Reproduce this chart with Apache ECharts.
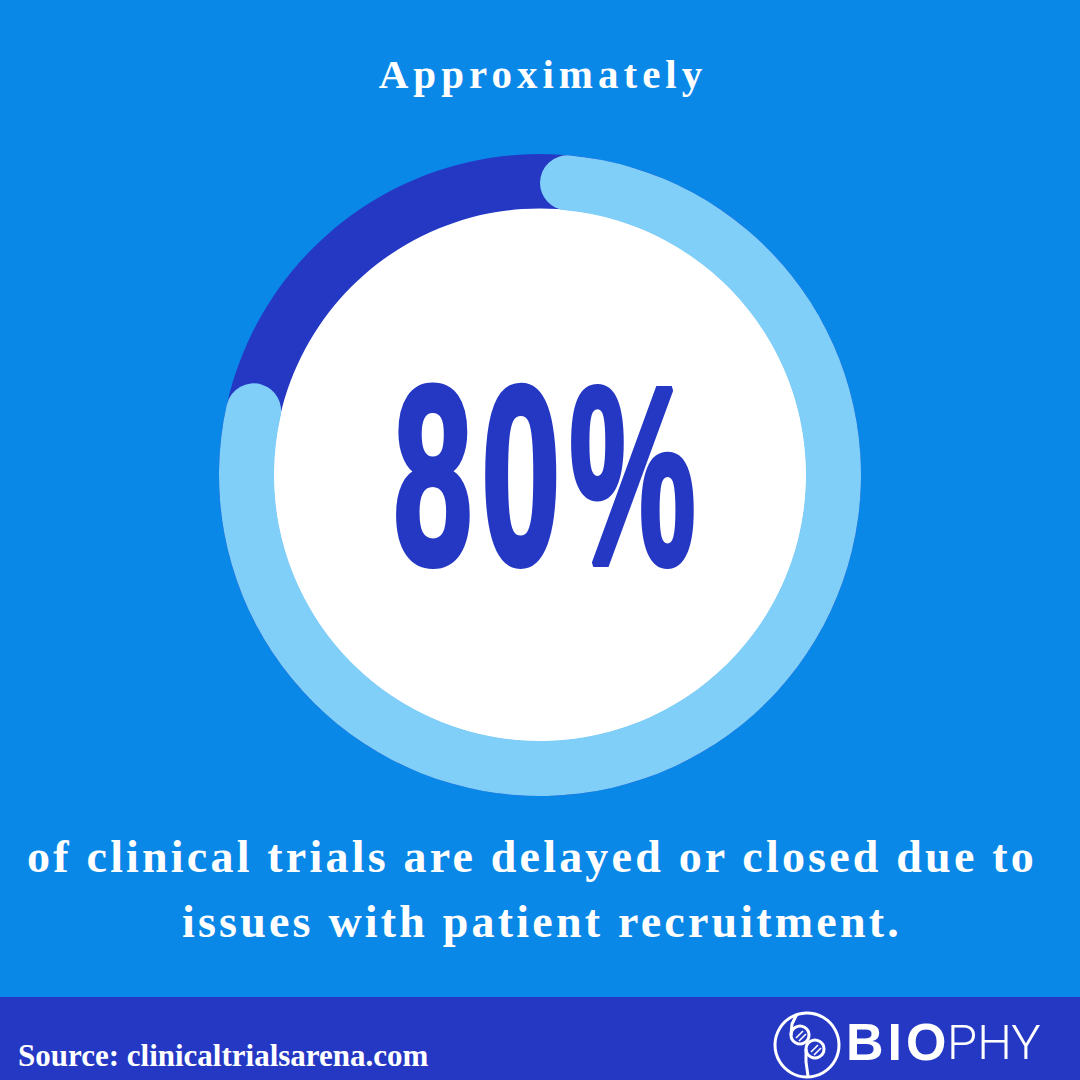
<!DOCTYPE html>
<html>
<head>
<meta charset="utf-8">
<script src="https://cdn.jsdelivr.net/npm/echarts@6/dist/echarts.min.js"></script>
<style>
html,body{margin:0;padding:0;background:#0A88E8;}
#chart{width:1080px;height:1080px;}
</style>
</head>
<body>
<div id="chart"></div>
<script>
// ---- data ----
const categories = ['Delayed or closed due to recruitment issues', 'Other trials'];
const values = [80, 20];
const titleText = 'Approximately';
const captionLines = ['of clinical trials are delayed or closed due to', 'issues with patient recruitment.'];
const sourceText = 'Source: clinicaltrialsarena.com';
const brandBold = 'BIO';
const brandLight = 'PHY';

// ---- styles ----
const BG = '#0A88E8';
const DARK = '#2538C4';
const LIGHT = '#80CFF9';
const CENTER = [540, 475];
const R_IN = 266, R_OUT = 321;
const bigText = values[0] + '%';

const chart = echarts.init(document.getElementById('chart'), null, {renderer: 'svg', width: 1080, height: 1080});

const spacingMap = {};
spacingMap[titleText] = '5px';
spacingMap[captionLines[0]] = '3.2px';
spacingMap[captionLines[1]] = '3.2px';
spacingMap[bigText] = '16px';
spacingMap[brandBold] = '4px';

const option = {
  backgroundColor: BG,
  animation: false,
  series: [
    {
      type: 'pie', silent: true, radius: [R_IN, R_OUT], center: CENTER, z: 1,
      label: {show: false}, labelLine: {show: false},
      data: [{value: values[0] + values[1], name: 'track', itemStyle: {color: DARK}}]
    },
    {
      type: 'pie', silent: true, radius: [0, R_IN + 0.5], center: CENTER, z: 2,
      label: {show: false}, labelLine: {show: false},
      data: [{value: 1, name: 'inner', itemStyle: {color: '#FFFFFF'}}]
    },
    {
      type: 'pie', silent: true, radius: [R_IN, R_OUT], center: CENTER, z: 3,
      startAngle: 90, clockwise: true,
      label: {show: false}, labelLine: {show: false},
      data: values.map((v, i) => ({
        name: categories[i], value: v,
        itemStyle: i === 0 ? {color: LIGHT, borderRadius: (R_OUT - R_IN) / 2} : {color: 'rgba(0,0,0,0)'}
      }))
    }
  ],
  graphic: [
    {type: 'rect', z: 1, shape: {x: 0, y: 997, width: 1080, height: 83}, style: {fill: DARK}},
    {type: 'text', z: 10, x: 543, y: 74,
      style: {text: titleText, fontFamily: 'Liberation Serif', fontWeight: 'bold', fontSize: 41, fill: '#FFFFFF', align: 'center', verticalAlign: 'middle'}},
    {type: 'text', z: 10, x: 532, y: 856,
      style: {text: captionLines[0], fontFamily: 'Liberation Serif', fontWeight: 'bold', fontSize: 46, fill: '#FFFFFF', align: 'center', verticalAlign: 'middle'}},
    {type: 'text', z: 10, x: 542, y: 921.5,
      style: {text: captionLines[1], fontFamily: 'Liberation Serif', fontWeight: 'bold', fontSize: 46, fill: '#FFFFFF', align: 'center', verticalAlign: 'middle'}},
    {type: 'text', z: 10, x: 549, y: 476, scaleX: 0.56, scaleY: 1, originX: 0, originY: 0,
      style: {text: bigText, fontFamily: 'Liberation Sans', fontWeight: 'bold', fontSize: 254, fill: DARK, stroke: DARK, lineWidth: 6, align: 'center', verticalAlign: 'middle'}},
    {type: 'text', z: 10, x: 18, y: 1055.5,
      style: {text: sourceText, fontFamily: 'Liberation Serif', fontWeight: 'bold', fontSize: 31, fill: '#FFFFFF', align: 'left', verticalAlign: 'middle'}},
    // logo
    {type: 'circle', z: 10, shape: {cx: 807, cy: 1045, r: 32}, style: {fill: 'none', stroke: '#FFFFFF', lineWidth: 3}},
    {type: 'circle', z: 10, shape: {cx: 800, cy: 1035, r: 9}, style: {fill: 'none', stroke: '#FFFFFF', lineWidth: 3}},
    {type: 'circle', z: 10, shape: {cx: 815, cy: 1049, r: 9}, style: {fill: 'none', stroke: '#FFFFFF', lineWidth: 3}},
    {type: 'polyline', z: 10, shape: {points: [[797, 1014], [792, 1024], [791, 1035]]}, style: {fill: 'none', stroke: '#FFFFFF', lineWidth: 3}},
    {type: 'polyline', z: 10, shape: {points: [[806, 1049], [806, 1062], [808, 1076]]}, style: {fill: 'none', stroke: '#FFFFFF', lineWidth: 3}},
    {type: 'line', z: 10, shape: {x1: 796, y1: 1038, x2: 803, y2: 1031}, style: {stroke: '#FFFFFF', lineWidth: 1.6}},
    {type: 'line', z: 10, shape: {x1: 799, y1: 1041, x2: 806, y2: 1034}, style: {stroke: '#FFFFFF', lineWidth: 1.6}},
    {type: 'line', z: 10, shape: {x1: 811, y1: 1052, x2: 818, y2: 1045}, style: {stroke: '#FFFFFF', lineWidth: 1.6}},
    {type: 'line', z: 10, shape: {x1: 814, y1: 1055, x2: 821, y2: 1048}, style: {stroke: '#FFFFFF', lineWidth: 1.6}},
    {type: 'text', z: 10, x: 846, y: 1042,
      style: {text: brandBold, fontFamily: 'Liberation Sans', fontWeight: 'bold', fontSize: 52, fill: '#FFFFFF', align: 'left', verticalAlign: 'middle'}},
    {type: 'text', z: 10, x: 947, y: 1042,
      style: {text: brandLight, fontFamily: 'Roboto', fontWeight: 300, fontSize: 49, fill: '#FFFFFF', align: 'left', verticalAlign: 'middle'}}
  ]
};
chart.setOption(option);

function applySpacing() {
  document.querySelectorAll('#chart text').forEach(function (t) {
    const s = spacingMap[t.textContent];
    if (s) t.style.letterSpacing = s;
  });
}
applySpacing();
chart.on('finished', applySpacing);
setTimeout(applySpacing, 50);
setTimeout(applySpacing, 300);
</script>
</body>
</html>
